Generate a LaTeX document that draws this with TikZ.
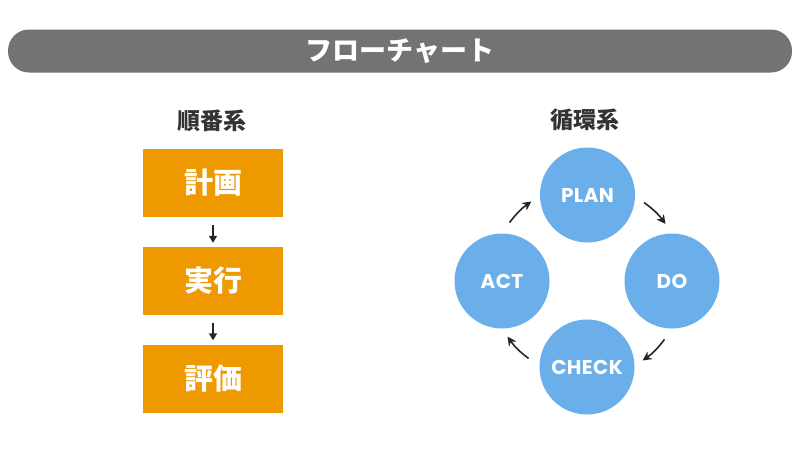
\documentclass[tikz,border=0pt]{standalone}
\usepackage{fontspec}
\newfontfamily\jpfont{Noto Sans CJK JP}
\newfontfamily\pdcafont{Poppins}[LetterSpace=2]
\usetikzlibrary{arrows.meta,calc}
\definecolor{barGray}{HTML}{737373}
\definecolor{stepOrange}{HTML}{EE9900}
\definecolor{cycleBlue}{HTML}{6AAFEA}
\definecolor{headText}{HTML}{333333}
\begin{document}
\begin{tikzpicture}[x=1pt,y=-1pt]
        \tikzstyle{stepBox}=[fill=stepOrange,minimum width=140pt,minimum height=68pt,inner sep=0pt,text=white,font=\jpfont\bfseries\fontsize{29}{29}\selectfont]
        \tikzstyle{cycleNode}=[circle,fill=cycleBlue,minimum size=95pt,inner sep=0pt,text=white,font=\pdcafont\bfseries\fontsize{20}{20}\selectfont]
        \tikzstyle{heading}=[text=headText,font=\jpfont\bfseries\fontsize{23}{23}\selectfont]
        \tikzstyle{flowArrow}=[-{Triangle[length=7pt,width=8pt]}, line width=1.5pt, black!85]
        \tikzstyle{cycleArrow}=[-{Stealth[length=9pt,width=9pt]}, line width=1.6pt, black!85]
    \useasboundingbox (0,0) rectangle (800,471);

    \node[fill=barGray,rounded corners=21pt,minimum width=784pt,minimum height=43pt,inner sep=0pt,text=white,font=\jpfont\bfseries\fontsize{27}{27}\selectfont] (title) at (400,51) {フローチャート};

    % sequential
    \node[heading] (seqHead) at (212,121) {順番系};
    \node[stepBox] (plan) at (213,183) {計画};
    \node[stepBox] (exec) at (213,281) {実行};
    \node[stepBox] (eval) at (213,378.5) {評価};

    \draw[flowArrow, shorten <=8pt, shorten >=4pt] (plan) -- (exec);
    \draw[flowArrow, shorten <=8pt, shorten >=4pt] (exec) -- (eval);

    % cyclic
    \node[heading] (cycHead) at (585,120) {循環系};
    \coordinate (cyc) at (587,281);
    \node[cycleNode] (p) at (587.5,195) {PLAN};
    \node[cycleNode] (d) at (672,281) {DO};
    \node[cycleNode] (c) at (587,367) {CHECK};
    \node[cycleNode] (a) at (502,281) {ACT};

    \coordinate (pd1) at ($(cyc)+(-54:97)$);
    \coordinate (pd2) at ($(cyc)+(-36:97)$);
    \coordinate (dc1) at ($(cyc)+(37:97)$);
    \coordinate (dc2) at ($(cyc)+(55:97)$);
    \coordinate (ca1) at ($(cyc)+(127:97)$);
    \coordinate (ca2) at ($(cyc)+(145:97)$);
    \coordinate (ap1) at ($(cyc)+(-143:97)$);
    \coordinate (ap2) at ($(cyc)+(-125:97)$);

    \draw[cycleArrow] (pd1) to[bend left=9] (pd2);
    \draw[cycleArrow] (dc1) to[bend left=9] (dc2);
    \draw[cycleArrow] (ca1) to[bend left=9] (ca2);
    \draw[cycleArrow] (ap1) to[bend left=9] (ap2);
\end{tikzpicture}
\end{document}
